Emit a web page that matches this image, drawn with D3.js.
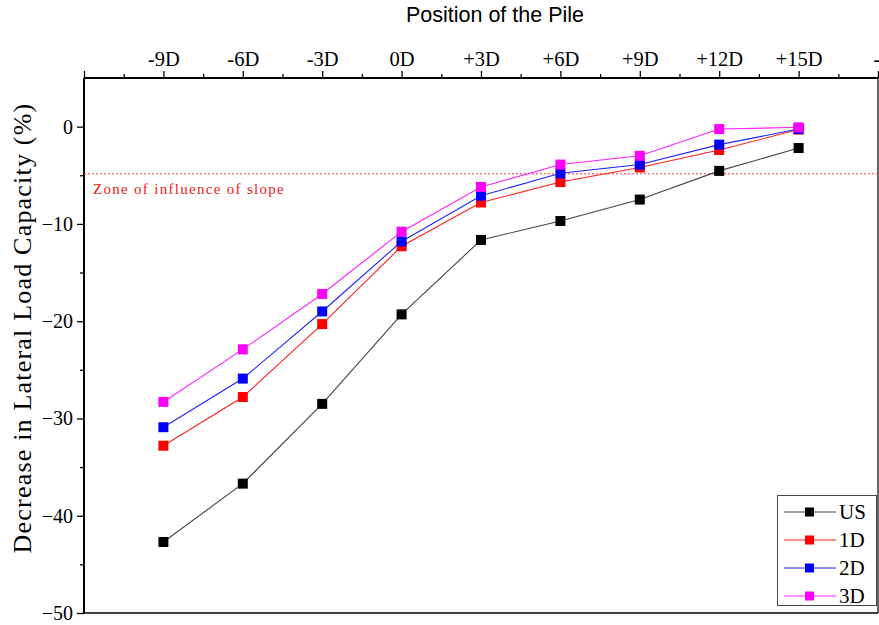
<!DOCTYPE html>
<html><head><meta charset="utf-8">
<script src="https://cdn.jsdelivr.net/npm/d3@7"></script>
<style>body{margin:0;background:#fff}svg{display:block}</style>
</head><body>
<script>
const positions = ["-9D","-6D","-3D","0D","+3D","+6D","+9D","+12D","+15D"];
const topTickLabels = ["", "-9D","-6D","-3D","0D","+3D","+6D","+9D","+12D","+15D","-"];
const seriesNames = ["US","1D","2D","3D"];
const seriesColors = ["#000000","#ff0000","#0000ff","#ff00ff"];
const lineColors = ["#444444","#ff2020","#2020ff","#ff20ff"];
const valuesUS = [-42.7,-36.7,-28.5,-19.3,-11.65,-9.7,-7.5,-4.55,-2.2];
const values1D = [-32.8,-27.8,-20.3,-12.3,-7.8,-5.7,-4.2,-2.4,-0.3];
const values2D = [-30.9,-25.9,-19.0,-11.8,-7.1,-4.8,-3.9,-1.85,-0.25];
const values3D = [-28.3,-22.9,-17.2,-10.8,-6.2,-3.9,-3.0,-0.25,-0.07];
const zoneValue = -4.85;
const zoneLabel = "Zone of influence of slope";
const yTicks = [0,-10,-20,-30,-40,-50];

const W=879,H=625;
const m={l:84,r:878,t:78,b:613};
const svg=d3.select("body").append("svg").attr("width",W).attr("height",H);
const x=d3.scaleLinear().domain([-1,9]).range([m.l,m.r]);
const y=d3.scaleLinear().domain([-50,5]).range([m.b,m.t]);
const serif="'Liberation Serif','Times New Roman',serif";

// top axis
const gx=svg.append("g").attr("transform",`translate(0,${m.t})`);
gx.call(d3.axisTop(x).tickValues(d3.range(-1,10,1)).tickSize(7).tickFormat((d,i)=>topTickLabels[i]));
gx.call(g=>g.select(".domain").remove());
gx.selectAll("text").attr("font-family",serif).attr("font-size",20.5).attr("fill","#000").attr("dy","-0.1em");
gx.selectAll(".tick:last-of-type text").attr("text-anchor","start").attr("dx","-5");
gx.selectAll(".tick line").attr("stroke","#000").attr("stroke-width",1.3);
const gxm=svg.append("g").attr("transform",`translate(0,${m.t})`);
gxm.call(d3.axisTop(x).tickValues(d3.range(-0.5,9,1)).tickSize(4).tickFormat(""));
gxm.select(".domain").remove();
gxm.selectAll(".tick line").attr("stroke","#000").attr("stroke-width",1.3);

// left axis
const gy=svg.append("g").attr("transform",`translate(${m.l},0)`);
gy.call(d3.axisLeft(y).tickValues(yTicks).tickSize(7).tickPadding(4).tickFormat(d3.format("d")));
gy.select(".domain").remove();
gy.selectAll("text").attr("font-family",serif).attr("font-size",20).attr("fill","#000");
gy.selectAll(".tick line").attr("stroke","#000").attr("stroke-width",1.3);
const gym=svg.append("g").attr("transform",`translate(${m.l},0)`);
gym.call(d3.axisLeft(y).tickValues([-5,-15,-25,-35,-45]).tickSize(4).tickFormat(""));
gym.select(".domain").remove();
gym.selectAll(".tick line").attr("stroke","#000").attr("stroke-width",1.3);

// frame
svg.append("line").attr("x1",m.l).attr("x2",m.l).attr("y1",m.t).attr("y2",m.b).attr("stroke","#000").attr("stroke-width",2);
svg.append("line").attr("x1",m.l).attr("x2",m.r).attr("y1",m.t).attr("y2",m.t).attr("stroke","#000").attr("stroke-width",2);
svg.append("line").attr("x1",m.l).attr("x2",m.r).attr("y1",m.b).attr("y2",m.b).attr("stroke","#000").attr("stroke-width",1.6);
svg.append("line").attr("x1",m.r).attr("x2",m.r).attr("y1",m.t).attr("y2",m.b).attr("stroke","#000").attr("stroke-width",1.2);

// titles
svg.append("text").attr("x",495).attr("y",22).attr("text-anchor","middle")
  .attr("font-family","'Liberation Sans',Arial,sans-serif").attr("font-size",21.5).text("Position of the Pile");
svg.append("text").attr("transform",`translate(31,328) rotate(-90)`).attr("text-anchor","middle")
  .attr("font-family",serif).attr("font-size",26).attr("letter-spacing","1.2").text("Decrease in Lateral Load Capacity (%)");

// zone line
svg.append("line").attr("x1",m.l).attr("x2",m.r).attr("y1",y(zoneValue)).attr("y2",y(zoneValue))
  .attr("stroke","#ff3030").attr("stroke-width",1).attr("stroke-dasharray","2,2");
svg.append("text").attr("x",93).attr("y",y(zoneValue)+20).attr("font-family",serif).attr("font-size",15)
  .attr("letter-spacing","1.3").attr("fill","#ee2020").text(zoneLabel);

// series
const allValues=[valuesUS,values1D,values2D,values3D];
const line=d3.line().x((d,i)=>x(i)).y(d=>y(d));
allValues.forEach((vals,k)=>{
  svg.append("path").datum(vals).attr("d",line).attr("fill","none").attr("stroke",lineColors[k]).attr("stroke-width",1.1);
});
allValues.forEach((vals,k)=>{
  svg.append("g").selectAll("rect").data(vals).join("rect")
    .attr("x",(d,i)=>x(i)-5).attr("y",d=>y(d)-5).attr("width",10).attr("height",10).attr("fill",seriesColors[k]);
});

// legend
const lg=svg.append("g");
lg.append("rect").attr("x",777.5).attr("y",495.5).attr("width",99).attr("height",110).attr("fill","#fff").attr("stroke","#444").attr("stroke-width",1);
seriesNames.forEach((n,k)=>{
  const yy=512+k*28;
  lg.append("line").attr("x1",784).attr("x2",836).attr("y1",yy).attr("y2",yy).attr("stroke",lineColors[k]).attr("stroke-width",1);
  lg.append("rect").attr("x",805).attr("y",yy-4.5).attr("width",9).attr("height",9).attr("fill",seriesColors[k]);
  lg.append("text").attr("x",839).attr("y",yy+7).attr("font-family",serif).attr("font-size",21).text(n);
});
</script>
</body></html>
